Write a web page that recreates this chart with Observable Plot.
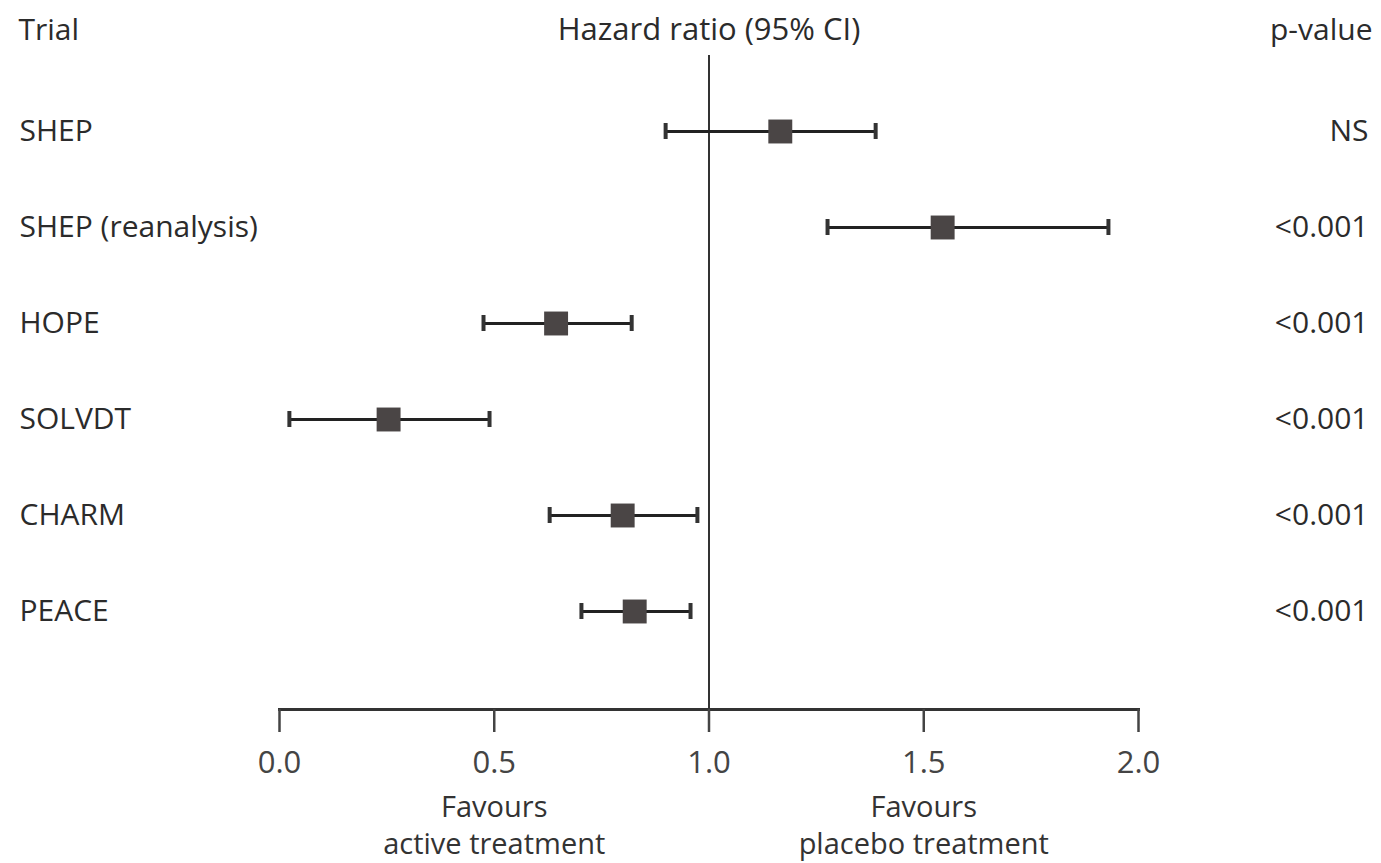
<!DOCTYPE html>
<html>
<head>
<meta charset="utf-8">
<script src="https://cdn.jsdelivr.net/npm/d3@7"></script>
<script src="https://cdn.jsdelivr.net/npm/@observablehq/plot@0.6"></script>
<style>
  html, body { margin: 0; padding: 0; background: #fff; }
  #chart svg { display: block; }
</style>
</head>
<body>
<div id="chart"></div>
<script>
const trials = ["SHEP", "SHEP (reanalysis)", "HOPE", "SOLVDT", "CHARM", "PEACE"];
const hazard = [1.166, 1.544, 0.644, 0.254, 0.799, 0.827];
const lower  = [0.899, 1.276, 0.475, 0.023, 0.629, 0.703];
const upper  = [1.388, 1.930, 0.820, 0.489, 0.973, 0.957];
const pvalues = ["NS", "<0.001", "<0.001", "<0.001", "<0.001", "<0.001"];
const xTicks = [0, 0.5, 1, 1.5, 2];
const favourTop = ["Favours", "Favours"];
const favourBottom = ["active treatment", "placebo treatment"];
const favourX = [0.5, 1.5];

const rows = trials.map((t, i) => ({trial: t, hr: hazard[i], lo: lower[i], hi: upper[i], p: pvalues[i]}));
const favours = favourX.map((x, i) => ({top: favourTop[i], bottom: favourBottom[i], x}));

const font = "'Open Sans', Lato, sans-serif";
const ink = "#2b2b2b";

const chart = Plot.plot({
  width: 1381,
  height: 863,
  marginTop: 55,
  marginBottom: 154,
  marginLeft: 279,
  marginRight: 243,
  style: {fontFamily: font, background: "#fff", color: ink},
  x: {domain: [0, 2]},
  y: {type: "band", domain: trials, range: [80.5, 661.5], paddingInner: 0.835, paddingOuter: 0.4175, axis: null},
  marks: [
    Plot.frame({anchor: "bottom", stroke: "#333", strokeWidth: 3}),
    Plot.axisX(xTicks, {tickSize: 23, tickPadding: 18, tickFormat: d3.format(".1f"), fontSize: 31, stroke: "#444", strokeWidth: 2.5, fill: "#444", label: null}),
    Plot.ruleX([1], {stroke: "#333", strokeWidth: 2}),
    Plot.ruleY(rows, {y: "trial", x1: "lo", x2: "hi", stroke: "#222", strokeWidth: 3}),
    Plot.tickX(rows, {x: "lo", y: "trial", stroke: "#333", strokeWidth: 4}),
    Plot.tickX(rows, {x: "hi", y: "trial", stroke: "#333", strokeWidth: 4}),
    Plot.dot(rows, {x: "hr", y: "trial", symbol: "square", r: 13.5, fill: "#4a4545", stroke: null}),
    Plot.text(rows, {y: "trial", text: "trial", frameAnchor: "left", dx: -260, textAnchor: "start", fontSize: 30, fill: ink}),
    Plot.text(rows, {y: "trial", text: "p", frameAnchor: "right", dx: 230, textAnchor: "end", fontSize: 30, fill: ink}),
    Plot.text(["Trial"], {frameAnchor: "top-left", dx: -261, dy: -25, lineAnchor: "middle", textAnchor: "start", fontSize: 30, fontWeight: 500, fill: ink}),
    Plot.text(["Hazard ratio (95% CI)"], {x: 1, frameAnchor: "top", dy: -25, lineAnchor: "middle", fontSize: 31, fontWeight: 500, fill: ink}),
    Plot.text(["p-value"], {frameAnchor: "top-right", dx: 234, dy: -25, lineAnchor: "middle", textAnchor: "end", fontSize: 30, fontWeight: 500, fill: ink}),
    Plot.text(favours, {x: "x", text: "top", frameAnchor: "bottom", dy: 98, fontSize: 29, fill: "#333", lineAnchor: "middle"}),
    Plot.text(favours, {x: "x", text: "bottom", frameAnchor: "bottom", dy: 135, fontSize: 29, fill: "#333", lineAnchor: "middle"})
  ]
});
document.getElementById("chart").appendChild(chart);
</script>
</body>
</html>
